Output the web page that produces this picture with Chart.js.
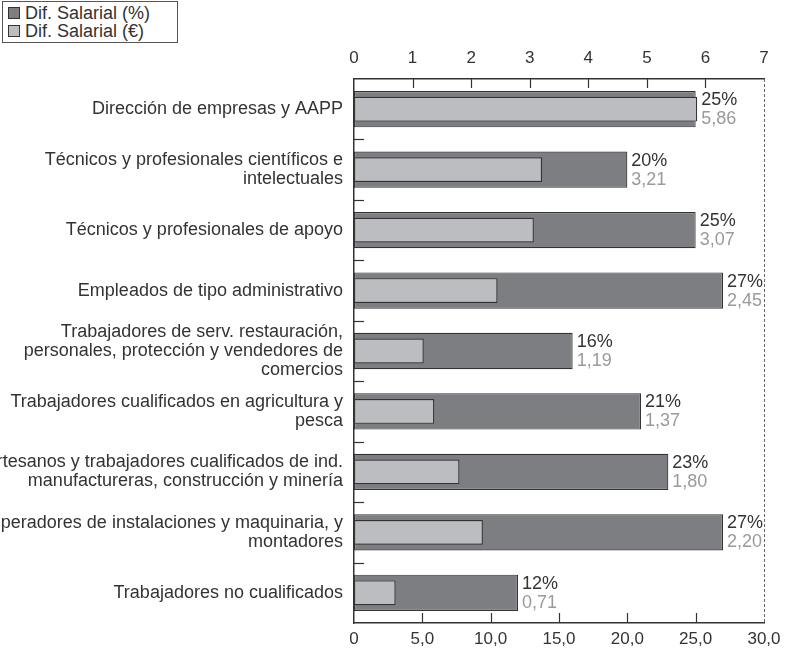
<!DOCTYPE html>
<html>
<head>
<meta charset="utf-8">
<script src="https://cdn.jsdelivr.net/npm/chart.js@4.4.0/dist/chart.umd.min.js"></script>
<style>
  html, body { margin: 0; padding: 0; background: #fff; }
  #wrap { position: relative; width: 787px; height: 654px; }
  #legend {
    position: absolute; left: 2px; top: 1px; width: 174px; height: 40px;
    border: 1px solid #555; background: #fff;
    font: 18px "Liberation Sans", Arial, sans-serif; color: #333;
  }
  #legend div { position: absolute; left: 5px; height: 19px; line-height: 19px; white-space: nowrap; }
  #legend span.sw { display: inline-block; width: 10px; height: 10px; border: 1px solid #333; vertical-align: 0px; margin-right: 5px; }
</style>
</head>
<body>
<div id="wrap">
  <canvas id="regularChart" width="787" height="654"></canvas>
  <div id="legend">
    <div style="top:2px"><span class="sw" style="background:#7d7e82"></span>Dif. Salarial (%)</div>
    <div style="top:20px"><span class="sw" style="background:#bcbdc0"></span>Dif. Salarial (€)</div>
  </div>
</div>
<script>
// categorías (ocupaciones)
const ocupaciones = [
  "Dirección de empresas y AAPP",
  ["Técnicos y profesionales científicos e", "intelectuales"],
  "Técnicos y profesionales de apoyo",
  "Empleados de tipo administrativo",
  ["Trabajadores de serv. restauración,", "personales, protección y vendedores de", "comercios"],
  ["Trabajadores cualificados en agricultura y", "pesca"],
  ["Artesanos y trabajadores cualificados de ind.", "manufactureras, construcción y minería"],
  ["Operadores de instalaciones y maquinaria, y", "montadores"],
  "Trabajadores no cualificados"
];
// diferencia salarial en %
const difPorcentaje = [25, 20, 25, 27, 16, 21, 23, 27, 12];
// diferencia salarial en euros
const difEuros = [5.86, 3.21, 3.07, 2.45, 1.19, 1.37, 1.80, 2.20, 0.71];
// ticks de los ejes
const ticksEuros = [0, 1, 2, 3, 4, 5, 6, 7];
const ticksPorcentaje = [0, 5, 10, 15, 20, 25, 30];

const FONT = '"Liberation Sans", Arial, sans-serif';
const fmtComa = (v, d) => v.toFixed(d).replace('.', ',');

// marcas de eje hacia dentro + borde derecho discontinuo
const marcasInternas = {
  id: 'marcasInternas',
  afterDraw(chart) {
    const { ctx, chartArea: a, scales } = chart;
    ctx.save();
    ctx.strokeStyle = '#333';
    ctx.lineWidth = 1.2;
    const line = (x1, y1, x2, y2) => { ctx.beginPath(); ctx.moveTo(x1, y1); ctx.lineTo(x2, y2); ctx.stroke(); };
    ticksEuros.slice(1, -1).forEach(v => {
      const px = Math.round(scales.x2.getPixelForValue(v)) + 0.5;
      line(px, a.top, px, a.top + 9);
    });
    ticksPorcentaje.slice(1, -1).forEach(v => {
      const px = Math.round(scales.x.getPixelForValue(v)) + 0.5;
      line(px, a.bottom, px, a.bottom - 10);
    });
    for (let i = 1; i < ocupaciones.length; i++) {
      const py = Math.round(scales.y.getPixelForValue(i - 0.5)) + 0.5;
      line(a.left, py, a.left + 10, py);
    }
    ctx.strokeStyle = '#666';
    ctx.lineWidth = 1;
    ctx.setLineDash([3, 2]);
    line(a.right + 0.5, a.top, a.right + 0.5, a.bottom);
    ctx.restore();
  }
};

// etiquetas de valor al final de las barras
const etiquetasValor = {
  id: 'etiquetasValor',
  afterDatasetsDraw(chart) {
    const { ctx } = chart;
    const light = chart.getDatasetMeta(0).data;
    const dark = chart.getDatasetMeta(1).data;
    ctx.save();
    ctx.font = '18px ' + FONT;
    ctx.textBaseline = 'middle';
    ctx.textAlign = 'left';
    dark.forEach((bar, i) => {
      const x = Math.max(bar.x, light[i].x) + 4;
      ctx.fillStyle = '#333';
      ctx.fillText(difPorcentaje[i] + '%', x, bar.y - 9);
      ctx.fillStyle = '#9a9a9a';
      ctx.fillText(fmtComa(difEuros[i], 2), x, bar.y + 10);
    });
    ctx.restore();
  }
};

new Chart(document.getElementById("regularChart"), {
  type: "bar",
  data: {
    labels: ocupaciones,
    datasets: [{
      label: "Dif. Salarial (€)",
      data: difEuros,
      xAxisID: 'x2',
      backgroundColor: "#bcbdc0",
      borderColor: "#333",
      borderWidth: 1.2,
      borderSkipped: false,
      grouped: false,
      barPercentage: 0.41,
      categoryPercentage: 1
    }, {
      label: "Dif. Salarial (%)",
      data: difPorcentaje,
      xAxisID: 'x',
      backgroundColor: "#7d7e82",
      borderColor: "#333",
      borderWidth: 1.2,
      borderSkipped: false,
      grouped: false,
      barPercentage: 0.6,
      categoryPercentage: 1
    }]
  },
  options: {
    indexAxis: 'y',
    responsive: false,
    animation: false,
    layout: { padding: { top: 0, left: 0, right: 23, bottom: 0 } },
    plugins: {
      legend: { display: false },
      tooltip: { enabled: false }
    },
    scales: {
      y: {
        position: 'left',
        grid: { display: false, drawTicks: false },
        border: { color: '#333', width: 1.5 },
        ticks: { autoSkip: false, padding: 11, color: '#333', font: { family: FONT, size: 18, lineHeight: 1.07 } },
        afterFit: s => { s.width = 354; }
      },
      x: {
        position: 'bottom',
        min: 0, max: 30,
        afterBuildTicks: s => { s.ticks = ticksPorcentaje.map(v => ({ value: v })); },
        grid: { display: false, drawTicks: false },
        border: { color: '#333', width: 1.5 },
        ticks: {
          autoSkip: false, padding: 6, color: '#333', maxRotation: 0,
          font: { family: FONT, size: 17 },
          callback: v => v === 0 ? '0' : fmtComa(v, 1)
        },
        afterFit: s => { s.height = 31; }
      },
      x2: {
        position: 'top',
        min: 0, max: 7,
        afterBuildTicks: s => { s.ticks = ticksEuros.map(v => ({ value: v })); },
        grid: { display: false, drawTicks: false },
        border: { color: '#333', width: 1.5 },
        ticks: { autoSkip: false, padding: 10, color: '#333', maxRotation: 0, font: { family: FONT, size: 17 } },
        afterFit: s => { s.height = 79; }
      }
    }
  },
  plugins: [marcasInternas, etiquetasValor]
});
</script>
</body>
</html>
